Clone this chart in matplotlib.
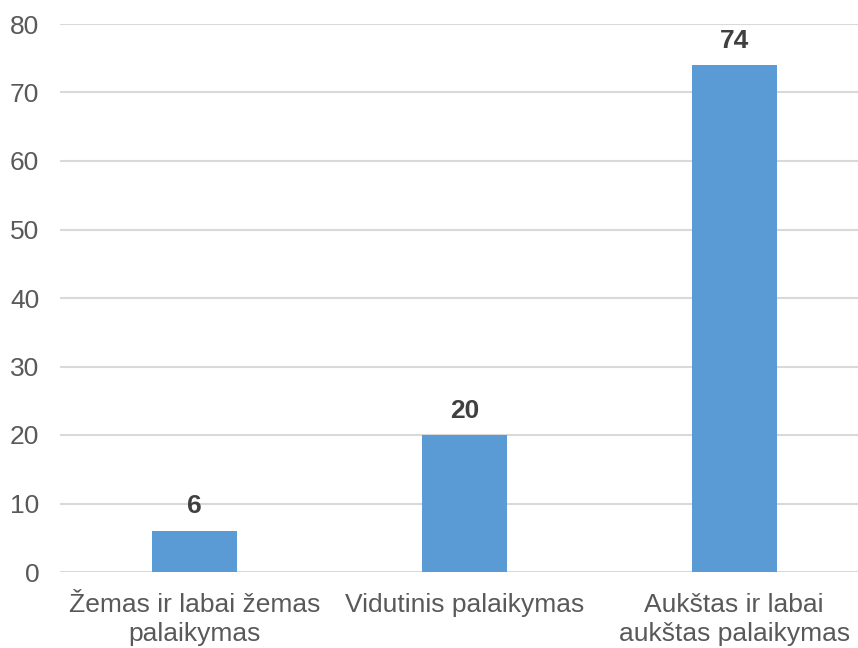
import matplotlib.pyplot as plt

categories = ["Žemas ir labai žemas\npalaikymas", "Vidutinis palaikymas", "Aukštas ir labai\naukštas palaikymas"]
values = [6, 20, 74]
yticks = [0, 10, 20, 30, 40, 50, 60, 70, 80]

plt.rcParams["font.family"] = ["Liberation Sans", "DejaVu Sans"]

fig = plt.figure(figsize=(8.58, 6.48), dpi=100)
ax = fig.add_axes([60 / 858, 76 / 648, 798 / 858, 548 / 648])

x = range(len(categories))
bars = ax.bar(x, values, width=0.315, color="#5b9bd5", zorder=2)

for b, v in zip(bars, values):
    ax.annotate(str(v), (b.get_x() + b.get_width() / 2, v), xytext=(0, 9),
                textcoords="offset points", ha="center", va="bottom",
                fontsize=19, fontweight="bold", color="#404040")

ax.set_xlim(-0.5, 2.5 - 11 / 269.75)
ax.set_ylim(0, 80)
ax.set_yticks(yticks)
ax.set_xticks(list(x))
ax.set_xticklabels(categories, linespacing=1.25)
ax.tick_params(axis="y", length=0, pad=15, labelsize=19, labelcolor="#595959")
ax.tick_params(axis="x", length=0, pad=15, labelsize=19, labelcolor="#595959")

ax.grid(axis="y", color="#d9d9d9", linewidth=1.5, zorder=0)
for s in ax.spines.values():
    s.set_visible(False)

fig.savefig("out.png", dpi=100)
